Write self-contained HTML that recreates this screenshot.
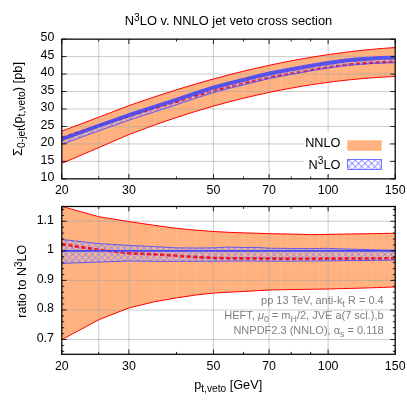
<!DOCTYPE html>
<html><head><meta charset="utf-8"><title>N3LO v. NNLO jet veto cross section</title>
<style>html,body{margin:0;padding:0;background:#fff;}body{width:407px;height:407px;overflow:hidden;font-family:"Liberation Sans",sans-serif;}svg{display:block;will-change:transform}</style>
</head><body>
<svg width="407" height="407" viewBox="0 0 407 407" font-family="Liberation Sans, sans-serif">
<defs>
<pattern id="hx" patternUnits="userSpaceOnUse" width="6.5" height="6.5" x="69.35" y="251.15"><path d="M-6.5,-6.5 L13.0,13.0" stroke="#fff" stroke-width="1.0" stroke-opacity="0.7"/><path d="M13.0,-6.5 L-6.5,13.0" stroke="#fff" stroke-width="1.0" stroke-opacity="0.7"/><path d="M-6.5,-6.5 L13.0,13.0" stroke="#4848ff" stroke-width="0.95" stroke-opacity="0.58"/><path d="M13.0,-6.5 L-6.5,13.0" stroke="#4848ff" stroke-width="0.95" stroke-opacity="0.58"/></pattern>
<clipPath id="c1"><rect x="61.8" y="39.15" width="333.4" height="139.7"/></clipPath>
<clipPath id="c2"><rect x="61.8" y="206.5" width="333.4" height="147.8"/></clipPath>
</defs>
<rect width="407" height="407" fill="#fff"/>
<g clip-path="url(#c1)">
<path d="M61.80,131.13 L98.72,117.22 L128.89,105.65 L154.40,96.89 L176.49,89.78 L195.98,83.91 L213.42,78.97 L229.19,74.78 L243.58,71.18 L256.83,68.06 L269.09,65.34 L280.51,62.96 L291.19,60.86 L301.22,59.01 L310.68,57.37 L319.62,55.92 L328.11,54.63 L336.18,53.48 L343.88,52.46 L351.23,51.55 L358.28,50.75 L365.03,50.03 L371.52,49.40 L377.77,48.84 L383.78,48.34 L389.59,47.91 L395.20,47.54 L395.20,76.48 L389.59,76.74 L383.78,77.05 L377.77,77.43 L371.52,77.87 L365.03,78.38 L358.28,78.97 L351.23,79.65 L343.88,80.43 L336.18,81.33 L328.11,82.35 L319.62,83.52 L310.68,84.85 L301.22,86.38 L291.19,88.13 L280.51,90.13 L269.09,92.44 L256.83,95.11 L243.58,98.21 L229.19,101.85 L213.42,106.14 L195.98,111.26 L176.49,117.46 L154.40,125.07 L128.89,134.55 L98.72,147.65 L61.80,163.42Z" fill="#ff6600" fill-opacity="0.5"/>
<g stroke="#fff" stroke-opacity="0.13" stroke-width="0.7"><line x1="98.72" x2="98.72" y1="117.72" y2="147.15"/><line x1="128.89" x2="128.89" y1="106.15" y2="134.05"/><line x1="154.40" x2="154.40" y1="97.39" y2="124.57"/><line x1="176.49" x2="176.49" y1="90.28" y2="116.96"/><line x1="195.98" x2="195.98" y1="84.41" y2="110.76"/><line x1="213.42" x2="213.42" y1="79.47" y2="105.64"/><line x1="229.19" x2="229.19" y1="75.28" y2="101.35"/><line x1="243.58" x2="243.58" y1="71.68" y2="97.71"/><line x1="256.83" x2="256.83" y1="68.56" y2="94.61"/><line x1="269.09" x2="269.09" y1="65.84" y2="91.94"/><line x1="280.51" x2="280.51" y1="63.46" y2="89.63"/><line x1="291.19" x2="291.19" y1="61.36" y2="87.63"/><line x1="301.22" x2="301.22" y1="59.51" y2="85.88"/><line x1="310.68" x2="310.68" y1="57.87" y2="84.35"/><line x1="319.62" x2="319.62" y1="56.42" y2="83.02"/><line x1="328.11" x2="328.11" y1="55.13" y2="81.85"/><line x1="336.18" x2="336.18" y1="53.98" y2="80.83"/><line x1="343.88" x2="343.88" y1="52.96" y2="79.93"/><line x1="351.23" x2="351.23" y1="52.05" y2="79.15"/><line x1="358.28" x2="358.28" y1="51.25" y2="78.47"/><line x1="365.03" x2="365.03" y1="50.53" y2="77.88"/><line x1="371.52" x2="371.52" y1="49.90" y2="77.37"/><line x1="377.77" x2="377.77" y1="49.34" y2="76.93"/><line x1="383.78" x2="383.78" y1="48.84" y2="76.55"/><line x1="389.59" x2="389.59" y1="48.41" y2="76.24"/></g>
</g>
<g stroke="#a0a0a0" stroke-opacity="0.55" stroke-width="1"><line x1="98.72" x2="98.72" y1="39.15" y2="178.85"/><line x1="128.89" x2="128.89" y1="39.15" y2="178.85"/><line x1="213.42" x2="213.42" y1="39.15" y2="178.85"/><line x1="269.09" x2="269.09" y1="39.15" y2="178.85"/><line x1="328.11" x2="328.11" y1="39.15" y2="178.85"/><line x1="61.8" x2="395.2" y1="161.39" y2="161.39"/><line x1="61.8" x2="395.2" y1="143.93" y2="143.93"/><line x1="61.8" x2="395.2" y1="126.46" y2="126.46"/><line x1="61.8" x2="395.2" y1="109.00" y2="109.00"/><line x1="61.8" x2="395.2" y1="91.54" y2="91.54"/><line x1="61.8" x2="395.2" y1="74.07" y2="74.07"/><line x1="61.8" x2="395.2" y1="56.61" y2="56.61"/></g>
<g clip-path="url(#c1)" fill="none">
<path d="M61.80,131.13 L98.72,117.22 L128.89,105.65 L154.40,96.89 L176.49,89.78 L195.98,83.91 L213.42,78.97 L229.19,74.78 L243.58,71.18 L256.83,68.06 L269.09,65.34 L280.51,62.96 L291.19,60.86 L301.22,59.01 L310.68,57.37 L319.62,55.92 L328.11,54.63 L336.18,53.48 L343.88,52.46 L351.23,51.55 L358.28,50.75 L365.03,50.03 L371.52,49.40 L377.77,48.84 L383.78,48.34 L389.59,47.91 L395.20,47.54" stroke="#ff0000" stroke-width="1"/>
<path d="M61.80,163.42 L98.72,147.65 L128.89,134.55 L154.40,125.07 L176.49,117.46 L195.98,111.26 L213.42,106.14 L229.19,101.85 L243.58,98.21 L256.83,95.11 L269.09,92.44 L280.51,90.13 L291.19,88.13 L301.22,86.38 L310.68,84.85 L319.62,83.52 L328.11,82.35 L336.18,81.33 L343.88,80.43 L351.23,79.65 L358.28,78.97 L365.03,78.38 L371.52,77.87 L377.77,77.43 L383.78,77.05 L389.59,76.74 L395.20,76.48" stroke="#ff0000" stroke-width="1"/>
<path d="M61.80,137.77 L98.72,125.77 L128.89,116.20 L154.40,108.28 L176.49,101.86 L195.98,95.87 L213.42,90.81 L229.19,86.88 L243.58,83.51 L256.83,80.28 L269.09,77.47 L280.51,75.32 L291.19,73.47 L301.22,71.67 L310.68,70.02 L319.62,68.52 L328.11,67.22 L336.18,66.06 L343.88,65.06 L351.23,64.24 L358.28,63.74 L365.03,63.23 L371.52,62.78 L377.77,62.42 L383.78,62.15 L389.59,61.95 L395.20,61.82" stroke="#ff0000" stroke-width="2.3" stroke-dasharray="4.2 2.4"/>
<path d="M61.80,137.67 L98.72,124.27 L128.89,113.60 L154.40,105.25 L176.49,98.17 L195.98,91.55 L213.42,85.99 L229.19,81.83 L243.58,78.28 L256.83,74.91 L269.09,71.98 L280.51,69.75 L291.19,67.82 L301.22,65.98 L310.68,64.27 L319.62,62.77 L328.11,61.45 L336.18,60.28 L343.88,59.26 L351.23,58.43 L358.28,57.93 L365.03,57.43 L371.52,57.00 L377.77,56.66 L383.78,56.41 L389.59,56.23 L395.20,56.13 L395.20,62.73 L389.59,62.83 L383.78,63.01 L377.77,63.26 L371.52,63.60 L365.03,64.03 L358.28,64.53 L351.23,65.03 L343.88,65.86 L336.18,66.88 L328.11,68.05 L319.62,69.37 L310.68,70.87 L301.22,72.58 L291.19,74.42 L280.51,76.35 L269.09,78.58 L256.83,81.51 L243.58,84.88 L229.19,88.43 L213.42,92.59 L195.98,98.15 L176.49,104.77 L154.40,111.85 L128.89,120.20 L98.72,130.87 L61.80,144.27Z" fill="url(#hx)" stroke="none"/>
<path d="M61.80,137.67 L98.72,124.27 L128.89,113.60 L154.40,105.25 L176.49,98.17 L195.98,91.55 L213.42,85.99 L229.19,81.83 L243.58,78.28 L256.83,74.91 L269.09,71.98 L280.51,69.75 L291.19,67.82 L301.22,65.98 L310.68,64.27 L319.62,62.77 L328.11,61.45 L336.18,60.28 L343.88,59.26 L351.23,58.43 L358.28,57.93 L365.03,57.43 L371.52,57.00 L377.77,56.66 L383.78,56.41 L389.59,56.23 L395.20,56.13" stroke="#4848ff" stroke-width="1" stroke-opacity="0.85"/>
<path d="M61.80,144.27 L98.72,130.87 L128.89,120.20 L154.40,111.85 L176.49,104.77 L195.98,98.15 L213.42,92.59 L229.19,88.43 L243.58,84.88 L256.83,81.51 L269.09,78.58 L280.51,76.35 L291.19,74.42 L301.22,72.58 L310.68,70.87 L319.62,69.37 L328.11,68.05 L336.18,66.88 L343.88,65.86 L351.23,65.03 L358.28,64.53 L365.03,64.03 L371.52,63.60 L377.77,63.26 L383.78,63.01 L389.59,62.83 L395.20,62.73" stroke="#4848ff" stroke-width="1" stroke-opacity="0.85"/>
<path d="M61.80,139.47 L98.72,126.07 L128.89,115.40 L154.40,107.05 L176.49,99.97 L195.98,93.35 L213.42,87.79 L229.19,83.63 L243.58,80.08 L256.83,76.71 L269.09,73.78 L280.51,71.55 L291.19,69.62 L301.22,67.78 L310.68,66.07 L319.62,64.57 L328.11,63.25 L336.18,62.08 L343.88,61.06 L351.23,60.23 L358.28,59.73 L365.03,59.23 L371.52,58.80 L377.77,58.46 L383.78,58.21 L389.59,58.03 L395.20,57.93" stroke="#4646f2" stroke-width="3.3" stroke-opacity="0.88"/>
</g>
<g clip-path="url(#c2)">
<path d="M61.80,206.40 L98.72,216.69 L128.89,221.58 L154.40,225.37 L176.49,228.37 L195.98,230.17 L213.42,231.47 L229.19,232.37 L243.58,232.86 L256.83,233.26 L269.09,233.66 L280.51,233.86 L291.19,234.06 L301.22,234.36 L310.68,234.66 L319.62,234.56 L328.11,234.36 L336.18,234.21 L343.88,234.06 L351.23,233.96 L358.28,233.86 L365.03,233.76 L371.52,233.66 L377.77,233.56 L383.78,233.46 L389.59,233.36 L395.20,233.26 L395.20,286.99 L389.59,287.19 L383.78,287.39 L377.77,287.59 L371.52,287.79 L365.03,287.99 L358.28,288.19 L351.23,288.38 L343.88,288.59 L336.18,288.78 L328.11,288.99 L319.62,289.13 L310.68,289.29 L301.22,289.43 L291.19,289.59 L280.51,289.78 L269.09,289.99 L256.83,290.69 L243.58,291.49 L229.19,292.18 L213.42,293.08 L195.98,294.98 L176.49,297.88 L154.40,301.77 L128.89,307.96 L98.72,319.75 L61.80,339.62Z" fill="#ff6600" fill-opacity="0.5"/>
<g stroke="#fff" stroke-opacity="0.13" stroke-width="0.7"><line x1="98.72" x2="98.72" y1="217.19" y2="319.25"/><line x1="128.89" x2="128.89" y1="222.08" y2="307.46"/><line x1="154.40" x2="154.40" y1="225.87" y2="301.27"/><line x1="176.49" x2="176.49" y1="228.87" y2="297.38"/><line x1="195.98" x2="195.98" y1="230.67" y2="294.48"/><line x1="213.42" x2="213.42" y1="231.97" y2="292.58"/><line x1="229.19" x2="229.19" y1="232.87" y2="291.68"/><line x1="243.58" x2="243.58" y1="233.36" y2="290.99"/><line x1="256.83" x2="256.83" y1="233.76" y2="290.19"/><line x1="269.09" x2="269.09" y1="234.16" y2="289.49"/><line x1="280.51" x2="280.51" y1="234.36" y2="289.28"/><line x1="291.19" x2="291.19" y1="234.56" y2="289.09"/><line x1="301.22" x2="301.22" y1="234.86" y2="288.93"/><line x1="310.68" x2="310.68" y1="235.16" y2="288.79"/><line x1="319.62" x2="319.62" y1="235.06" y2="288.63"/><line x1="328.11" x2="328.11" y1="234.86" y2="288.49"/><line x1="336.18" x2="336.18" y1="234.71" y2="288.28"/><line x1="343.88" x2="343.88" y1="234.56" y2="288.09"/><line x1="351.23" x2="351.23" y1="234.46" y2="287.88"/><line x1="358.28" x2="358.28" y1="234.36" y2="287.69"/><line x1="365.03" x2="365.03" y1="234.26" y2="287.49"/><line x1="371.52" x2="371.52" y1="234.16" y2="287.29"/><line x1="377.77" x2="377.77" y1="234.06" y2="287.09"/><line x1="383.78" x2="383.78" y1="233.96" y2="286.89"/><line x1="389.59" x2="389.59" y1="233.86" y2="286.69"/></g>
</g>
<g stroke="#a0a0a0" stroke-opacity="0.55" stroke-width="1"><line x1="98.72" x2="98.72" y1="206.5" y2="354.3"/><line x1="128.89" x2="128.89" y1="206.5" y2="354.3"/><line x1="213.42" x2="213.42" y1="206.5" y2="354.3"/><line x1="269.09" x2="269.09" y1="206.5" y2="354.3"/><line x1="328.11" x2="328.11" y1="206.5" y2="354.3"/><line x1="61.8" x2="395.2" y1="339.52" y2="339.52"/><line x1="61.8" x2="395.2" y1="309.96" y2="309.96"/><line x1="61.8" x2="395.2" y1="280.40" y2="280.40"/><line x1="61.8" x2="395.2" y1="250.84" y2="250.84"/><line x1="61.8" x2="395.2" y1="221.28" y2="221.28"/></g>
<g clip-path="url(#c2)" fill="none">
<path d="M61.80,206.40 L98.72,216.69 L128.89,221.58 L154.40,225.37 L176.49,228.37 L195.98,230.17 L213.42,231.47 L229.19,232.37 L243.58,232.86 L256.83,233.26 L269.09,233.66 L280.51,233.86 L291.19,234.06 L301.22,234.36 L310.68,234.66 L319.62,234.56 L328.11,234.36 L336.18,234.21 L343.88,234.06 L351.23,233.96 L358.28,233.86 L365.03,233.76 L371.52,233.66 L377.77,233.56 L383.78,233.46 L389.59,233.36 L395.20,233.26" stroke="#ff0000" stroke-width="1"/>
<path d="M61.80,339.62 L98.72,319.75 L128.89,307.96 L154.40,301.77 L176.49,297.88 L195.98,294.98 L213.42,293.08 L229.19,292.18 L243.58,291.49 L256.83,290.69 L269.09,289.99 L280.51,289.78 L291.19,289.59 L301.22,289.43 L310.68,289.29 L319.62,289.13 L328.11,288.99 L336.18,288.78 L343.88,288.59 L351.23,288.38 L358.28,288.19 L365.03,287.99 L371.52,287.79 L377.77,287.59 L383.78,287.39 L389.59,287.19 L395.20,286.99" stroke="#ff0000" stroke-width="1"/>
<path d="M61.80,244.05 L98.72,249.84 L128.89,253.24 L154.40,254.24 L176.49,255.73 L195.98,257.03 L213.42,257.93 L229.19,258.23 L243.58,258.43 L256.83,258.53 L269.09,258.63 L280.51,258.68 L291.19,258.73 L301.22,258.73 L310.68,258.73 L319.62,258.68 L328.11,258.63 L336.18,258.60 L343.88,258.58 L351.23,258.55 L358.28,258.53 L365.03,258.47 L371.52,258.42 L377.77,258.37 L383.78,258.32 L389.59,258.28 L395.20,258.23" stroke="#ff0000" stroke-width="2.6" stroke-dasharray="4.2 2.4"/>
<path d="M61.80,239.46 L98.72,243.65 L128.89,245.35 L154.40,246.65 L176.49,247.84 L195.98,248.04 L213.42,247.84 L229.19,247.05 L243.58,247.54 L256.83,247.34 L269.09,248.24 L280.51,248.35 L291.19,248.44 L301.22,248.55 L310.68,248.64 L319.62,248.49 L328.11,248.34 L336.18,248.65 L343.88,248.94 L351.23,249.15 L358.28,249.34 L365.03,249.55 L371.52,249.74 L377.77,249.89 L383.78,250.04 L389.59,250.14 L395.20,250.24 L395.20,260.18 L389.59,260.23 L383.78,260.29 L377.77,260.34 L371.52,260.40 L365.03,260.46 L358.28,260.53 L351.23,260.60 L343.88,260.67 L336.18,260.75 L328.11,260.83 L319.62,260.92 L310.68,261.03 L301.22,261.07 L291.19,261.13 L280.51,261.13 L269.09,261.13 L256.83,261.08 L243.58,261.03 L229.19,261.12 L213.42,261.23 L195.98,261.27 L176.49,261.33 L154.40,261.33 L128.89,261.03 L98.72,262.02 L61.80,263.42Z" fill="url(#hx)" stroke="none"/>
<path d="M61.80,239.46 L98.72,243.65 L128.89,245.35 L154.40,246.65 L176.49,247.84 L195.98,248.04 L213.42,247.84 L229.19,247.05 L243.58,247.54 L256.83,247.34 L269.09,248.24 L280.51,248.35 L291.19,248.44 L301.22,248.55 L310.68,248.64 L319.62,248.49 L328.11,248.34 L336.18,248.65 L343.88,248.94 L351.23,249.15 L358.28,249.34 L365.03,249.55 L371.52,249.74 L377.77,249.89 L383.78,250.04 L389.59,250.14 L395.20,250.24" stroke="#4848ff" stroke-width="1" stroke-opacity="0.85"/>
<path d="M61.80,263.42 L98.72,262.02 L128.89,261.03 L154.40,261.33 L176.49,261.33 L195.98,261.27 L213.42,261.23 L229.19,261.12 L243.58,261.03 L256.83,261.08 L269.09,261.13 L280.51,261.13 L291.19,261.13 L301.22,261.07 L310.68,261.03 L319.62,260.92 L328.11,260.83 L336.18,260.75 L343.88,260.67 L351.23,260.60 L358.28,260.53 L365.03,260.46 L371.52,260.40 L377.77,260.34 L383.78,260.29 L389.59,260.23 L395.20,260.18" stroke="#4848ff" stroke-width="1" stroke-opacity="0.85"/>
<path d="M61.80,244.05 L98.72,249.84 L128.89,253.24 L154.40,254.24 L176.49,255.73 L195.98,257.03 L213.42,257.93 L229.19,258.23 L243.58,258.43 L256.83,258.53 L269.09,258.63 L280.51,258.68 L291.19,258.73 L301.22,258.73 L310.68,258.73 L319.62,258.68 L328.11,258.63 L336.18,258.60 L343.88,258.58 L351.23,258.55 L358.28,258.53 L365.03,258.47 L371.52,258.42 L377.77,258.37 L383.78,258.32 L389.59,258.28 L395.20,258.23" stroke="#ff0000" stroke-width="2.4" stroke-dasharray="4.2 2.4" stroke-opacity="0.45"/>
<line x1="61.8" x2="395.2" y1="250.84" y2="250.84" stroke="#4646f2" stroke-width="1.9"/>
</g>
<g stroke="#000" stroke-width="0.85" fill="none"><rect x="61.8" y="39.15" width="333.4" height="139.7" fill="none" stroke-width="1.25"/><path d="M61.80,178.85 v-4.8 M61.80,39.15 v4.8"/><path d="M128.89,178.85 v-4.8 M128.89,39.15 v4.8"/><path d="M213.42,178.85 v-4.8 M213.42,39.15 v4.8"/><path d="M269.09,178.85 v-4.8 M269.09,39.15 v4.8"/><path d="M328.11,178.85 v-4.8 M328.11,39.15 v4.8"/><path d="M395.20,178.85 v-4.8 M395.20,39.15 v4.8"/><path d="M98.72,178.85 v-2.4 M98.72,39.15 v2.4"/><path d="M176.49,178.85 v-2.4 M176.49,39.15 v2.4"/><path d="M243.58,178.85 v-2.4 M243.58,39.15 v2.4"/><path d="M291.19,178.85 v-2.4 M291.19,39.15 v2.4"/><path d="M310.68,178.85 v-2.4 M310.68,39.15 v2.4"/><path d="M61.8,178.85 h4.8 M395.2,178.85 h-4.8"/><path d="M61.8,161.39 h4.8 M395.2,161.39 h-4.8"/><path d="M61.8,143.93 h4.8 M395.2,143.93 h-4.8"/><path d="M61.8,126.46 h4.8 M395.2,126.46 h-4.8"/><path d="M61.8,109.00 h4.8 M395.2,109.00 h-4.8"/><path d="M61.8,91.54 h4.8 M395.2,91.54 h-4.8"/><path d="M61.8,74.07 h4.8 M395.2,74.07 h-4.8"/><path d="M61.8,56.61 h4.8 M395.2,56.61 h-4.8"/><path d="M61.8,39.15 h4.8 M395.2,39.15 h-4.8"/></g>
<g stroke="#000" stroke-width="0.85" fill="none"><rect x="61.8" y="206.5" width="333.4" height="147.8" fill="none" stroke-width="1.25"/><path d="M61.80,354.3 v-4.8 M61.80,206.5 v4.8"/><path d="M128.89,354.3 v-4.8 M128.89,206.5 v4.8"/><path d="M213.42,354.3 v-4.8 M213.42,206.5 v4.8"/><path d="M269.09,354.3 v-4.8 M269.09,206.5 v4.8"/><path d="M328.11,354.3 v-4.8 M328.11,206.5 v4.8"/><path d="M395.20,354.3 v-4.8 M395.20,206.5 v4.8"/><path d="M98.72,354.3 v-2.4 M98.72,206.5 v2.4"/><path d="M176.49,354.3 v-2.4 M176.49,206.5 v2.4"/><path d="M243.58,354.3 v-2.4 M243.58,206.5 v2.4"/><path d="M291.19,354.3 v-2.4 M291.19,206.5 v2.4"/><path d="M310.68,354.3 v-2.4 M310.68,206.5 v2.4"/><path d="M61.8,339.52 h4.8 M395.2,339.52 h-4.8"/><path d="M61.8,309.96 h4.8 M395.2,309.96 h-4.8"/><path d="M61.8,280.40 h4.8 M395.2,280.40 h-4.8"/><path d="M61.8,250.84 h4.8 M395.2,250.84 h-4.8"/><path d="M61.8,221.28 h4.8 M395.2,221.28 h-4.8"/><path d="M61.8,351.34 h2.4 M395.2,351.34 h-2.4"/><path d="M61.8,345.43 h2.4 M395.2,345.43 h-2.4"/><path d="M61.8,333.61 h2.4 M395.2,333.61 h-2.4"/><path d="M61.8,327.70 h2.4 M395.2,327.70 h-2.4"/><path d="M61.8,321.78 h2.4 M395.2,321.78 h-2.4"/><path d="M61.8,315.87 h2.4 M395.2,315.87 h-2.4"/><path d="M61.8,304.05 h2.4 M395.2,304.05 h-2.4"/><path d="M61.8,298.14 h2.4 M395.2,298.14 h-2.4"/><path d="M61.8,292.22 h2.4 M395.2,292.22 h-2.4"/><path d="M61.8,286.31 h2.4 M395.2,286.31 h-2.4"/><path d="M61.8,274.49 h2.4 M395.2,274.49 h-2.4"/><path d="M61.8,268.58 h2.4 M395.2,268.58 h-2.4"/><path d="M61.8,262.66 h2.4 M395.2,262.66 h-2.4"/><path d="M61.8,256.75 h2.4 M395.2,256.75 h-2.4"/><path d="M61.8,244.93 h2.4 M395.2,244.93 h-2.4"/><path d="M61.8,239.02 h2.4 M395.2,239.02 h-2.4"/><path d="M61.8,233.10 h2.4 M395.2,233.10 h-2.4"/><path d="M61.8,227.19 h2.4 M395.2,227.19 h-2.4"/><path d="M61.8,215.37 h2.4 M395.2,215.37 h-2.4"/><path d="M61.8,209.46 h2.4 M395.2,209.46 h-2.4"/></g>
<rect x="304" y="132.5" width="84.2" height="41.5" fill="#fff"/>
<rect x="347.3" y="140.3" width="34.3" height="10.5" fill="#ff6600" fill-opacity="0.5"/>
<rect x="347.6" y="159.5" width="33.8" height="10" fill="url(#hx)" stroke="#4848ff" stroke-opacity="0.85" stroke-width="0.9"/>
<text x="340.4" y="147.4" font-size="12.7" text-anchor="end">NNLO</text>
<text x="340.4" y="169.1" font-size="12.7" text-anchor="end">N<tspan font-size="10.2" dy="-4.9">3</tspan><tspan dy="4.9">LO</tspan></text>
<g font-size="12.4" fill="#000">
<text x="54.3" y="181.15" text-anchor="end">10</text>
<text x="54.3" y="163.69" text-anchor="end">15</text>
<text x="54.3" y="146.23" text-anchor="end">20</text>
<text x="54.3" y="128.76" text-anchor="end">25</text>
<text x="54.3" y="111.30" text-anchor="end">30</text>
<text x="54.3" y="93.84" text-anchor="end">35</text>
<text x="54.3" y="76.37" text-anchor="end">40</text>
<text x="54.3" y="58.91" text-anchor="end">45</text>
<text x="54.3" y="41.45" text-anchor="end">50</text>
<text x="61.80" y="194.1" text-anchor="middle">20</text>
<text x="61.80" y="370.0" text-anchor="middle">20</text>
<text x="128.89" y="194.1" text-anchor="middle">30</text>
<text x="128.89" y="370.0" text-anchor="middle">30</text>
<text x="213.42" y="194.1" text-anchor="middle">50</text>
<text x="213.42" y="370.0" text-anchor="middle">50</text>
<text x="269.09" y="194.1" text-anchor="middle">70</text>
<text x="269.09" y="370.0" text-anchor="middle">70</text>
<text x="328.11" y="194.1" text-anchor="middle">100</text>
<text x="328.11" y="370.0" text-anchor="middle">100</text>
<text x="395.20" y="194.1" text-anchor="middle">150</text>
<text x="395.20" y="370.0" text-anchor="middle">150</text>
<text x="53.9" y="341.82" text-anchor="end">0.7</text>
<text x="53.9" y="312.26" text-anchor="end">0.8</text>
<text x="53.9" y="282.70" text-anchor="end">0.9</text>
<text x="53.9" y="253.14" text-anchor="end">1</text>
<text x="53.9" y="223.58" text-anchor="end">1.1</text>
</g>
<text x="228.5" y="24.8" font-size="12.85" text-anchor="middle">N<tspan font-size="10.3" dy="-4.2">3</tspan><tspan dy="4.2">LO v. NNLO jet veto cross section</tspan></text>
<text transform="translate(21.6,108.9) rotate(-90)" font-size="12.9" text-anchor="middle">Σ<tspan font-size="10.3" dy="3">0-jet</tspan><tspan dy="-3">(p</tspan><tspan font-size="10.3" dy="3">t,veto</tspan><tspan dy="-3">) [pb]</tspan></text>
<text transform="translate(26,281.2) rotate(-90)" font-size="12.5" text-anchor="middle">ratio to N<tspan font-size="10.0" dy="-4.4">3</tspan><tspan dy="4.4">LO</tspan></text>
<text x="228.2" y="388.9" font-size="12.7" text-anchor="middle">p<tspan font-size="10.2" dy="3">t,veto</tspan><tspan dy="-3"> [GeV]</tspan></text>
<g font-size="11" fill="#7f7f7f" text-anchor="end">
<text x="383.7" y="304.4">pp 13 TeV, anti-k<tspan font-size="8.8" dy="2.5">t</tspan><tspan dy="-2.5"> R = 0.4</tspan></text>
<text x="383.7" y="319.4">HEFT, <tspan font-style="italic">μ</tspan><tspan font-size="8.8" dy="2.5">0</tspan><tspan dy="-2.5"> = m</tspan><tspan font-size="8.8" dy="2.5">H</tspan><tspan dy="-2.5">/2, JVE a(7 scl.),b</tspan></text>
<text x="383.7" y="334.2">NNPDF2.3 (NNLO), α<tspan font-size="8.8" dy="2.5">s</tspan><tspan dy="-2.5"> = 0.118</tspan></text>
</g>
</svg>
</body></html>
